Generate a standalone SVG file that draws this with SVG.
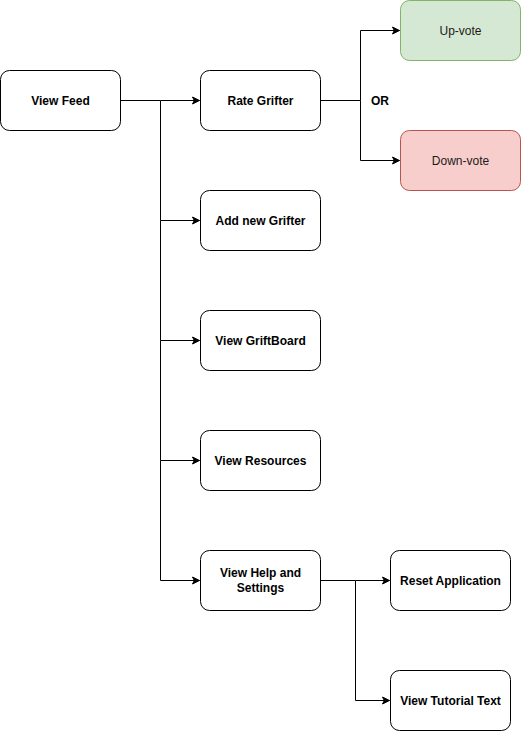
<svg xmlns="http://www.w3.org/2000/svg" width="521" height="731" viewBox="0 0 521 731">
<defs>
<style>
.box{fill:#ffffff;stroke:#000000;stroke-width:1}
.up{fill:#d5e8d4;stroke:#82b366;stroke-width:1}
.down{fill:#f8cecc;stroke:#b85450;stroke-width:1}
.t{font-family:"Liberation Sans",Arial,Helvetica,sans-serif;font-size:12px;font-weight:bold;fill:#000000;text-anchor:middle}
.n{font-weight:normal;fill:#1a1a1a}
.c{fill:none;stroke:#000000;stroke-width:1}
</style>
<marker id="arr" markerUnits="userSpaceOnUse" markerWidth="10" markerHeight="10" viewBox="0 0 10 10" refX="8" refY="5" orient="auto">
<path d="M1,1.5 L8,5 L1,8.5 L2.8,5 Z" fill="#000000" stroke="#000000" stroke-width="1"/>
</marker>
</defs>
<rect width="521" height="731" fill="#ffffff"/>
<g id="connectors">
<path class="c" d="M120.5,100.5 H160.5 H199.5" marker-end="url(#arr)"/>
<path class="c" d="M160.5,100.5 V220.5 H199.5" marker-end="url(#arr)"/>
<path class="c" d="M160.5,220.5 V340.5 H199.5" marker-end="url(#arr)"/>
<path class="c" d="M160.5,340.5 V460.5 H199.5" marker-end="url(#arr)"/>
<path class="c" d="M160.5,460.5 V580.5 H199.5" marker-end="url(#arr)"/>
<path class="c" d="M320.5,100.5 H360.5 V30.5 H399.5" marker-end="url(#arr)"/>
<path class="c" d="M360.5,100.5 V160.5 H399.5" marker-end="url(#arr)"/>
<path class="c" d="M320.5,580.5 H355.5 H389.5" marker-end="url(#arr)"/>
<path class="c" d="M355.5,580.5 V700.5 H389.5" marker-end="url(#arr)"/>
<text class="t" x="380" y="104.5">OR</text>
</g>
<g id="view-feed"><rect class="box" x="0.5" y="70.5" width="120" height="60" rx="9"/><text class="t" x="60.5" y="104.5">View Feed</text></g>
<g id="rate-grifter"><rect class="box" x="200.5" y="70.5" width="120" height="60" rx="9"/><text class="t" x="260.5" y="104.5">Rate Grifter</text></g>
<g id="up-vote"><rect class="up" x="400.5" y="0.5" width="120" height="60" rx="9"/><text class="t n" x="460.5" y="34.5">Up-vote</text></g>
<g id="down-vote"><rect class="down" x="400.5" y="130.5" width="120" height="60" rx="9"/><text class="t n" x="460.5" y="164.5">Down-vote</text></g>
<g id="add-new-grifter"><rect class="box" x="200.5" y="190.5" width="120" height="60" rx="9"/><text class="t" x="260.5" y="224.5">Add new Grifter</text></g>
<g id="view-griftboard"><rect class="box" x="200.5" y="310.5" width="120" height="60" rx="9"/><text class="t" x="260.5" y="344.5">View GriftBoard</text></g>
<g id="view-resources"><rect class="box" x="200.5" y="430.5" width="120" height="60" rx="9"/><text class="t" x="260.5" y="464.5">View Resources</text></g>
<g id="view-help"><rect class="box" x="200.5" y="550.5" width="120" height="60" rx="9"/><text class="t" x="260.5" y="577">View Help and</text><text class="t" x="260.5" y="592">Settings</text></g>
<g id="reset-application"><rect class="box" x="390.5" y="550.5" width="120" height="60" rx="9"/><text class="t" x="450.5" y="584.5">Reset Application</text></g>
<g id="view-tutorial-text"><rect class="box" x="390.5" y="670.5" width="120" height="60" rx="9"/><text class="t" x="450.5" y="704.5">View Tutorial Text</text></g>
</svg>
